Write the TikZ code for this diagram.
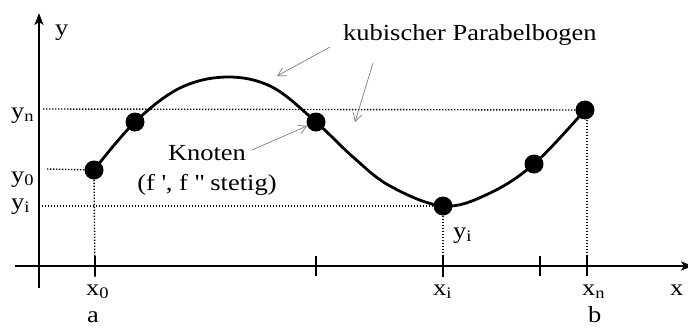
\documentclass[tikz,border=0pt]{standalone}
\usepackage{fontspec}
\setmainfont{Liberation Serif}[FakeStretch=1.15]
\usetikzlibrary{arrows.meta}
\definecolor{inkDark}{RGB}{0,0,0}
\definecolor{pointerGray}{RGB}{125,125,125}

\begin{document}
\begin{tikzpicture}[x=1pt, y=-1pt,
    every node/.style={text=inkDark, font=\fontsize{23}{26}\selectfont, inner sep=0pt},
    knot/.style={circle, fill=inkDark, minimum size=19pt},
    spline/.style={inkDark, line width=2.8pt},
    guide/.style={inkDark, line width=1.4pt, dash pattern=on 1.3pt off 1.7pt},
    axisline/.style={inkDark, line width=1.6pt, -{Stealth[length=12pt, width=9pt, inset=3pt]}},
    tickline/.style={inkDark, line width=1.6pt},
    pointer/.style={pointerGray, line width=0.7pt, -{Straight Barb[length=8pt, width=9pt]}}]
\useasboundingbox (0,0) rectangle (688,327);

% Axes
\coordinate (ybot) at (39,288);
\coordinate (ytop) at (39,13);
\coordinate (xleft) at (15,266);
\coordinate (xright) at (693,266);
\draw[axisline] (ybot) -- (ytop);
\draw[axisline] (xleft) -- (xright);

% Ticks
\coordinate (t0) at (95,266);
\coordinate (t1) at (316,266);
\coordinate (ti) at (443,266);
\coordinate (t3) at (540,266);
\coordinate (tn) at (587,266);
\draw[tickline] ([yshift=-10pt]t0) -- ([yshift=10pt]t0);
\draw[tickline] ([yshift=-10pt]t1) -- ([yshift=10pt]t1);
\draw[tickline] ([yshift=-10pt]ti) -- ([yshift=10pt]ti);
\draw[tickline] ([yshift=-10pt]t3) -- ([yshift=10pt]t3);
\draw[tickline] ([yshift=-10pt]tn) -- ([yshift=10pt]tn);

% Knots
\node[knot] (k0) at (94,170) {};
\node[knot] (k1) at (135,122) {};
\node[knot] (k2) at (316,122) {};
\node[knot] (k3) at (443,206) {};
\node[knot] (k4) at (534,164) {};
\node[knot] (k5) at (585,110) {};

% Spline through the knots
\draw[spline] plot[smooth, tension=0.6] coordinates {(k0.center) (k1.center)
    (180,88) (227,77) (272,87) (k2.center) (353,157) (390,186) (k3.center)
    (488,194) (k4.center) (k5.center)};

% Dotted guides
\coordinate (yn) at (43,109);
\coordinate (y0) at (47,169);
\coordinate (yi) at (42,206);
\draw[guide] (yn) -- (k5);
\draw[guide] (y0) -- (k0);
\draw[guide] (yi) -- (k3);
\draw[guide] (k0) -- ([yshift=-12pt]t0);
\draw[guide] (k3) -- ([yshift=-10pt]ti);
\draw[guide] (k5.south -| tn) -- (tn);

% Axis labels
\node[anchor=base west] (ylab) at (55,35) {y};
\node[anchor=base west] (xlab) at (670,295) {x};
\node[anchor=base west] (ynlab) at (11,118) {y\textsubscript{n}};
\node[anchor=base west] (y0lab) at (11,182) {y\textsubscript{0}};
\node[anchor=base west] (yilab) at (11,209) {y\textsubscript{i}};
\node[anchor=base west] (x0lab) at (86,295) {x\textsubscript{0}};
\node[anchor=base west] (alab) at (87,322) {a};
\node[anchor=base west] (xilab) at (433,295) {x\textsubscript{i}};
\node[anchor=base west] (xnlab) at (582,295) {x\textsubscript{n}};
\node[anchor=base west] (blab) at (588,322) {b};
\node[anchor=base west] (yiknot) at (453,238) {y\textsubscript{i}};

% Annotations
\node[anchor=base west] (bogen) at (343,40) {kubischer Parabelbogen};
\node[anchor=base] (knoten) at (207,160) {Knoten};
\node[anchor=base] (stetig) at (207,190) {(f \textquotesingle, f \textquotedbl{} stetig)};

\coordinate (b1) at (330,47);
\coordinate (b2) at (373,63);
\coordinate (b1end) at (277,76);
\coordinate (b2end) at (355,122);
\draw[pointer] (b1) -- (b1end);
\draw[pointer] (b2) -- (b2end);
\draw[pointer, shorten <=6pt] (knoten.east) -- (k2);

\end{tikzpicture}
\end{document}
